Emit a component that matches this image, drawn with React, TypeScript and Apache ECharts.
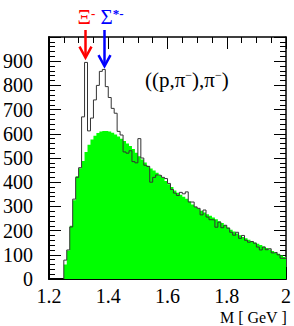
import React, { useEffect, useRef } from "react";
import * as echarts from "echarts";

// Mass bins: lower edges from 1.25 GeV, bin width 0.01 GeV
const BIN_START = 1.25;
const BIN_WIDTH = 0.01;

// Data histogram (black outline), counts per bin
const dataCounts = [
  78, 120, 215, 330, 420, 460, 670, 895, 612, 665,
  740, 800, 858, 866, 795, 750, 705, 685, 610, 595,
  525, 520, 530, 485, 480, 580, 500, 470, 465, 400,
  420, 430, 428, 420, 415, 395, 370, 355, 345, 358,
  352, 360, 318, 318, 298, 292, 265, 285, 256, 245,
  244, 214, 235, 212, 222, 210, 193, 181, 193, 168,
  180, 160, 152, 155, 148, 132, 120, 132, 121, 125,
  108, 110, 100, 86, 85,
];

// Background histogram (green fill), counts per bin
const backgroundCounts = [
  60, 118, 220, 325, 425, 458, 488, 525, 555, 576,
  592, 603, 609, 612, 612, 609, 604, 597, 589, 580,
  570, 560, 550, 537, 522, 507, 494, 481, 468, 457,
  448, 439, 429, 418, 405, 392, 380, 366, 356, 348,
  340, 332, 320, 308, 298, 290, 282, 275, 268, 261,
  254, 247, 239, 231, 222, 213, 204, 196, 188, 181,
  174, 168, 162, 156, 151, 146, 140, 134, 128, 122,
  116, 110, 104, 97, 91,
];

const X_MIN = 1.2;
const X_MAX = 2.0;
const X_INTERVAL = 0.2;
const Y_MIN = 0;
const Y_MAX = 1000;
const Y_INTERVAL = 100;

// Resonance markers
const markerNames = ["Ξ", "Σ"];
const markerSups = ["-", "*-"];
const markerMasses = [1.3217, 1.385];
const markerTips = [915, 880];
const markerColors = ["#ff0000", "#0000ff"];
const markerLabelShift = [-8, -4];

const FONT = "'Liberation Serif', 'Times New Roman', Times, serif";

function toSteps(values: number[]): number[][] {
  const pts: number[][] = [[BIN_START, 0]];
  values.forEach((v, i) => {
    pts.push([+(BIN_START + i * BIN_WIDTH).toFixed(3), v]);
  });
  pts.push([+(BIN_START + values.length * BIN_WIDTH).toFixed(3), values[values.length - 1]]);
  return pts;
}

export default function App() {
  const ref = useRef<HTMLDivElement>(null);

  useEffect(() => {
    if (!ref.current) return;
    const chart = echarts.init(ref.current, undefined, { renderer: "svg" });

    const tickStyle = { color: "#000", width: 1 };
    const xCommon = {
      type: "value" as const,
      min: X_MIN,
      max: X_MAX,
      interval: X_INTERVAL,
      splitLine: { show: false },
      axisTick: { show: true, inside: true, length: 12, lineStyle: tickStyle },
      minorTick: { show: true, splitNumber: 4, length: 6, lineStyle: tickStyle },
    };
    const yCommon = {
      type: "value" as const,
      min: Y_MIN,
      max: Y_MAX,
      interval: Y_INTERVAL,
      splitLine: { show: false },
      axisTick: { show: true, inside: true, length: 12, lineStyle: tickStyle },
      minorTick: { show: true, splitNumber: 5, length: 6, lineStyle: tickStyle },
    };

    chart.setOption({
      animation: false,
      textStyle: { fontFamily: FONT },
      grid: { left: 48, right: 7, top: 37, bottom: 47 },
      xAxis: [
        {
          ...xCommon,
          position: "bottom",
          axisLine: { show: true, onZero: false, lineStyle: { color: "#000", width: 2 } },
          axisLabel: {
            show: true,
            margin: 7,
            color: "#000",
            fontFamily: FONT,
            fontSize: 20,
            formatter: (v: number) => String(parseFloat(v.toFixed(2))),
          },
        },
        {
          ...xCommon,
          position: "top",
          axisLine: { show: true, onZero: false, lineStyle: { color: "#000", width: 1.5 } },
          axisLabel: { show: false },
        },
      ],
      yAxis: [
        {
          ...yCommon,
          position: "left",
          axisLine: { show: true, onZero: false, lineStyle: { color: "#000", width: 2 } },
          axisLabel: {
            show: true,
            margin: 16,
            color: "#000",
            fontFamily: FONT,
            fontSize: 20,
            showMaxLabel: false,
          },
        },
        {
          ...yCommon,
          position: "right",
          axisLine: { show: true, onZero: false, lineStyle: { color: "#000", width: 1.5 } },
          axisLabel: { show: false },
        },
      ],
      series: [
        {
          type: "line",
          name: "background",
          step: "end",
          xAxisIndex: 0,
          yAxisIndex: 0,
          data: toSteps(backgroundCounts),
          symbol: "none",
          lineStyle: { width: 0, color: "#00ff00" },
          itemStyle: { color: "#00ff00" },
          areaStyle: { color: "#00ff00", opacity: 1 },
          z: 2,
        },
        {
          type: "line",
          name: "data",
          step: "end",
          xAxisIndex: 0,
          yAxisIndex: 0,
          data: toSteps(dataCounts),
          symbol: "none",
          lineStyle: { width: 1, color: "#333" },
          itemStyle: { color: "#333" },
          z: 3,
        },
      ],
    });

    const graphics: any[] = [];
    markerMasses.forEach((m, i) => {
      const tip = chart.convertToPixel({ xAxisIndex: 0, yAxisIndex: 0 }, [m, markerTips[i]]) as number[];
      const x = Math.round(tip[0]) + 0.5;
      const ty = tip[1];
      const color = markerColors[i];
      graphics.push({
        type: "line",
        z: 100,
        shape: { x1: x, y1: 30, x2: x, y2: ty - 2 },
        style: { stroke: color, lineWidth: 2.5 },
      });
      graphics.push({
        type: "polyline",
        z: 100,
        shape: { points: [[x - 6, ty - 11], [x, ty], [x + 6, ty - 11]] },
        style: { stroke: color, lineWidth: 2.5, fill: null },
      });
      graphics.push({
        type: "text",
        z: 100,
        x: x + markerLabelShift[i],
        y: 17,
        style: {
          text: `{b|${markerNames[i]}}{s|${markerSups[i]}}`,
          verticalAlign: "middle",
          align: "left",
          rich: {
            b: { fontFamily: FONT, fontSize: 21, fill: color, color: color },
            s: { fontFamily: FONT, fontSize: 13, fill: color, color: color, verticalAlign: "top", fontWeight: "bold" },
          },
        },
      });
    });

    graphics.push({
      type: "text",
      z: 100,
      left: 145,
      top: 69,
      style: {
        text: "{a|((p,π}{s|−}{a|),π}{s|−}{a|)}",
        rich: {
          a: { fontFamily: FONT, fontSize: 21, fill: "#000", color: "#000" },
          s: { fontFamily: FONT, fontSize: 12, fill: "#000", color: "#000", verticalAlign: "top" },
        },
      },
    });
    graphics.push({
      type: "text",
      z: 100,
      right: 7,
      top: 309,
      style: {
        text: "M [ GeV ]",
        fontFamily: FONT,
        fontSize: 16,
        fill: "#000",
      },
    });

    chart.setOption({ graphic: graphics });

    return () => chart.dispose();
  }, []);

  return (
    <div
      ref={ref}
      style={{ position: "fixed", left: 0, top: 0, width: 294, height: 326, background: "#fff" }}
    />
  );
}
